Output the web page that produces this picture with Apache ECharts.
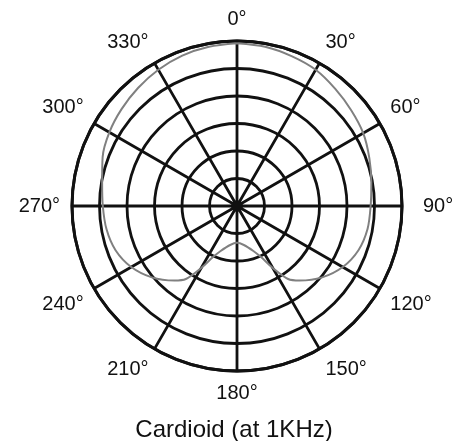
<!DOCTYPE html>
<html>
<head>
<meta charset="utf-8">
<script src="https://cdn.jsdelivr.net/npm/echarts@6/dist/echarts.min.js"></script>
<style>
  html, body { margin: 0; padding: 0; background: #fff; }
  #chart-container { width: 459px; height: 441px; }
</style>
</head>
<body>
<div id="chart-container"></div>
<script>
// response pattern (angle in degrees, level on a 0..30 ring scale)
const angles = [0, 10, 20, 30, 40, 50, 60, 70, 80, 90, 100, 110, 120, 130, 140, 145, 150, 155, 160, 170, 180,
  190, 200, 205, 210, 215, 220, 230, 240, 250, 260, 270, 280, 290, 300, 310, 320, 330, 340, 350, 360];
const levels = [29.6, 29.4, 29.0, 28.6, 27.8, 27.1, 26.5, 25.6, 24.8, 24.3, 24.1, 23.5, 22.2, 20.2, 17.7, 16.2, 13.0, 10.2, 8.7, 7.2, 6.7,
  7.2, 8.7, 10.2, 13.0, 16.2, 17.7, 20.2, 22.2, 23.5, 24.1, 24.4, 24.9, 26.0, 26.8, 27.4, 28.0, 28.6, 29.1, 29.4, 29.6];
const angleTicks = [0, 30, 60, 90, 120, 150, 180, 210, 240, 270, 300, 330];
const title = "Cardioid (at 1KHz)";

(() => {
  var dom = document.getElementById("chart-container");
  var chart = echarts.init(dom, null, { renderer: "canvas" });
  const font = "Liberation Sans";
  const labelFont = { fontFamily: font, fontSize: 20, color: "#111" };
  const option = {
    animation: false,
    title: {
      text: title,
      left: 229,
      textAlign: "center",
      top: 413,
      textStyle: { fontFamily: font, fontSize: 24, fontWeight: "normal", color: "#111" },
    },
    polar: {
      center: [237, 206],
      radius: 165,
    },
    angleAxis: {
      type: "value",
      min: 0,
      max: 360,
      interval: 30,
      startAngle: 90,
      clockwise: true,
      axisLine: { lineStyle: { color: "#111", width: 3 } },
      axisTick: { show: false },
      splitLine: { lineStyle: { color: "#111", width: 2.8 } },
      axisLabel: {
        margin: 12,
        ...labelFont,
        formatter: (v) => {
          if (angleTicks.indexOf(v) < 0) return "";
          return v === 90 ? "{e|" + v + "°}" : v + "°";
        },
        rich: {
          e: { ...labelFont, padding: [0, 0, 0, 9] },
        },
      },
    },
    radiusAxis: {
      min: 0,
      max: 30,
      interval: 5,
      axisLine: { show: false },
      axisTick: { show: false },
      axisLabel: { show: false },
      splitLine: { lineStyle: { color: "#111", width: 2.8 } },
    },
    series: [
      {
        type: "line",
        coordinateSystem: "polar",
        data: angles.map((a, i) => [levels[i], a]),
        smooth: 0.3,
        symbol: "none",
        lineStyle: { color: "#808080", width: 2 },
      },
    ],
  };
  chart.setOption(option);
  window.addEventListener("resize", chart.resize);
})();
</script>
</body>
</html>
